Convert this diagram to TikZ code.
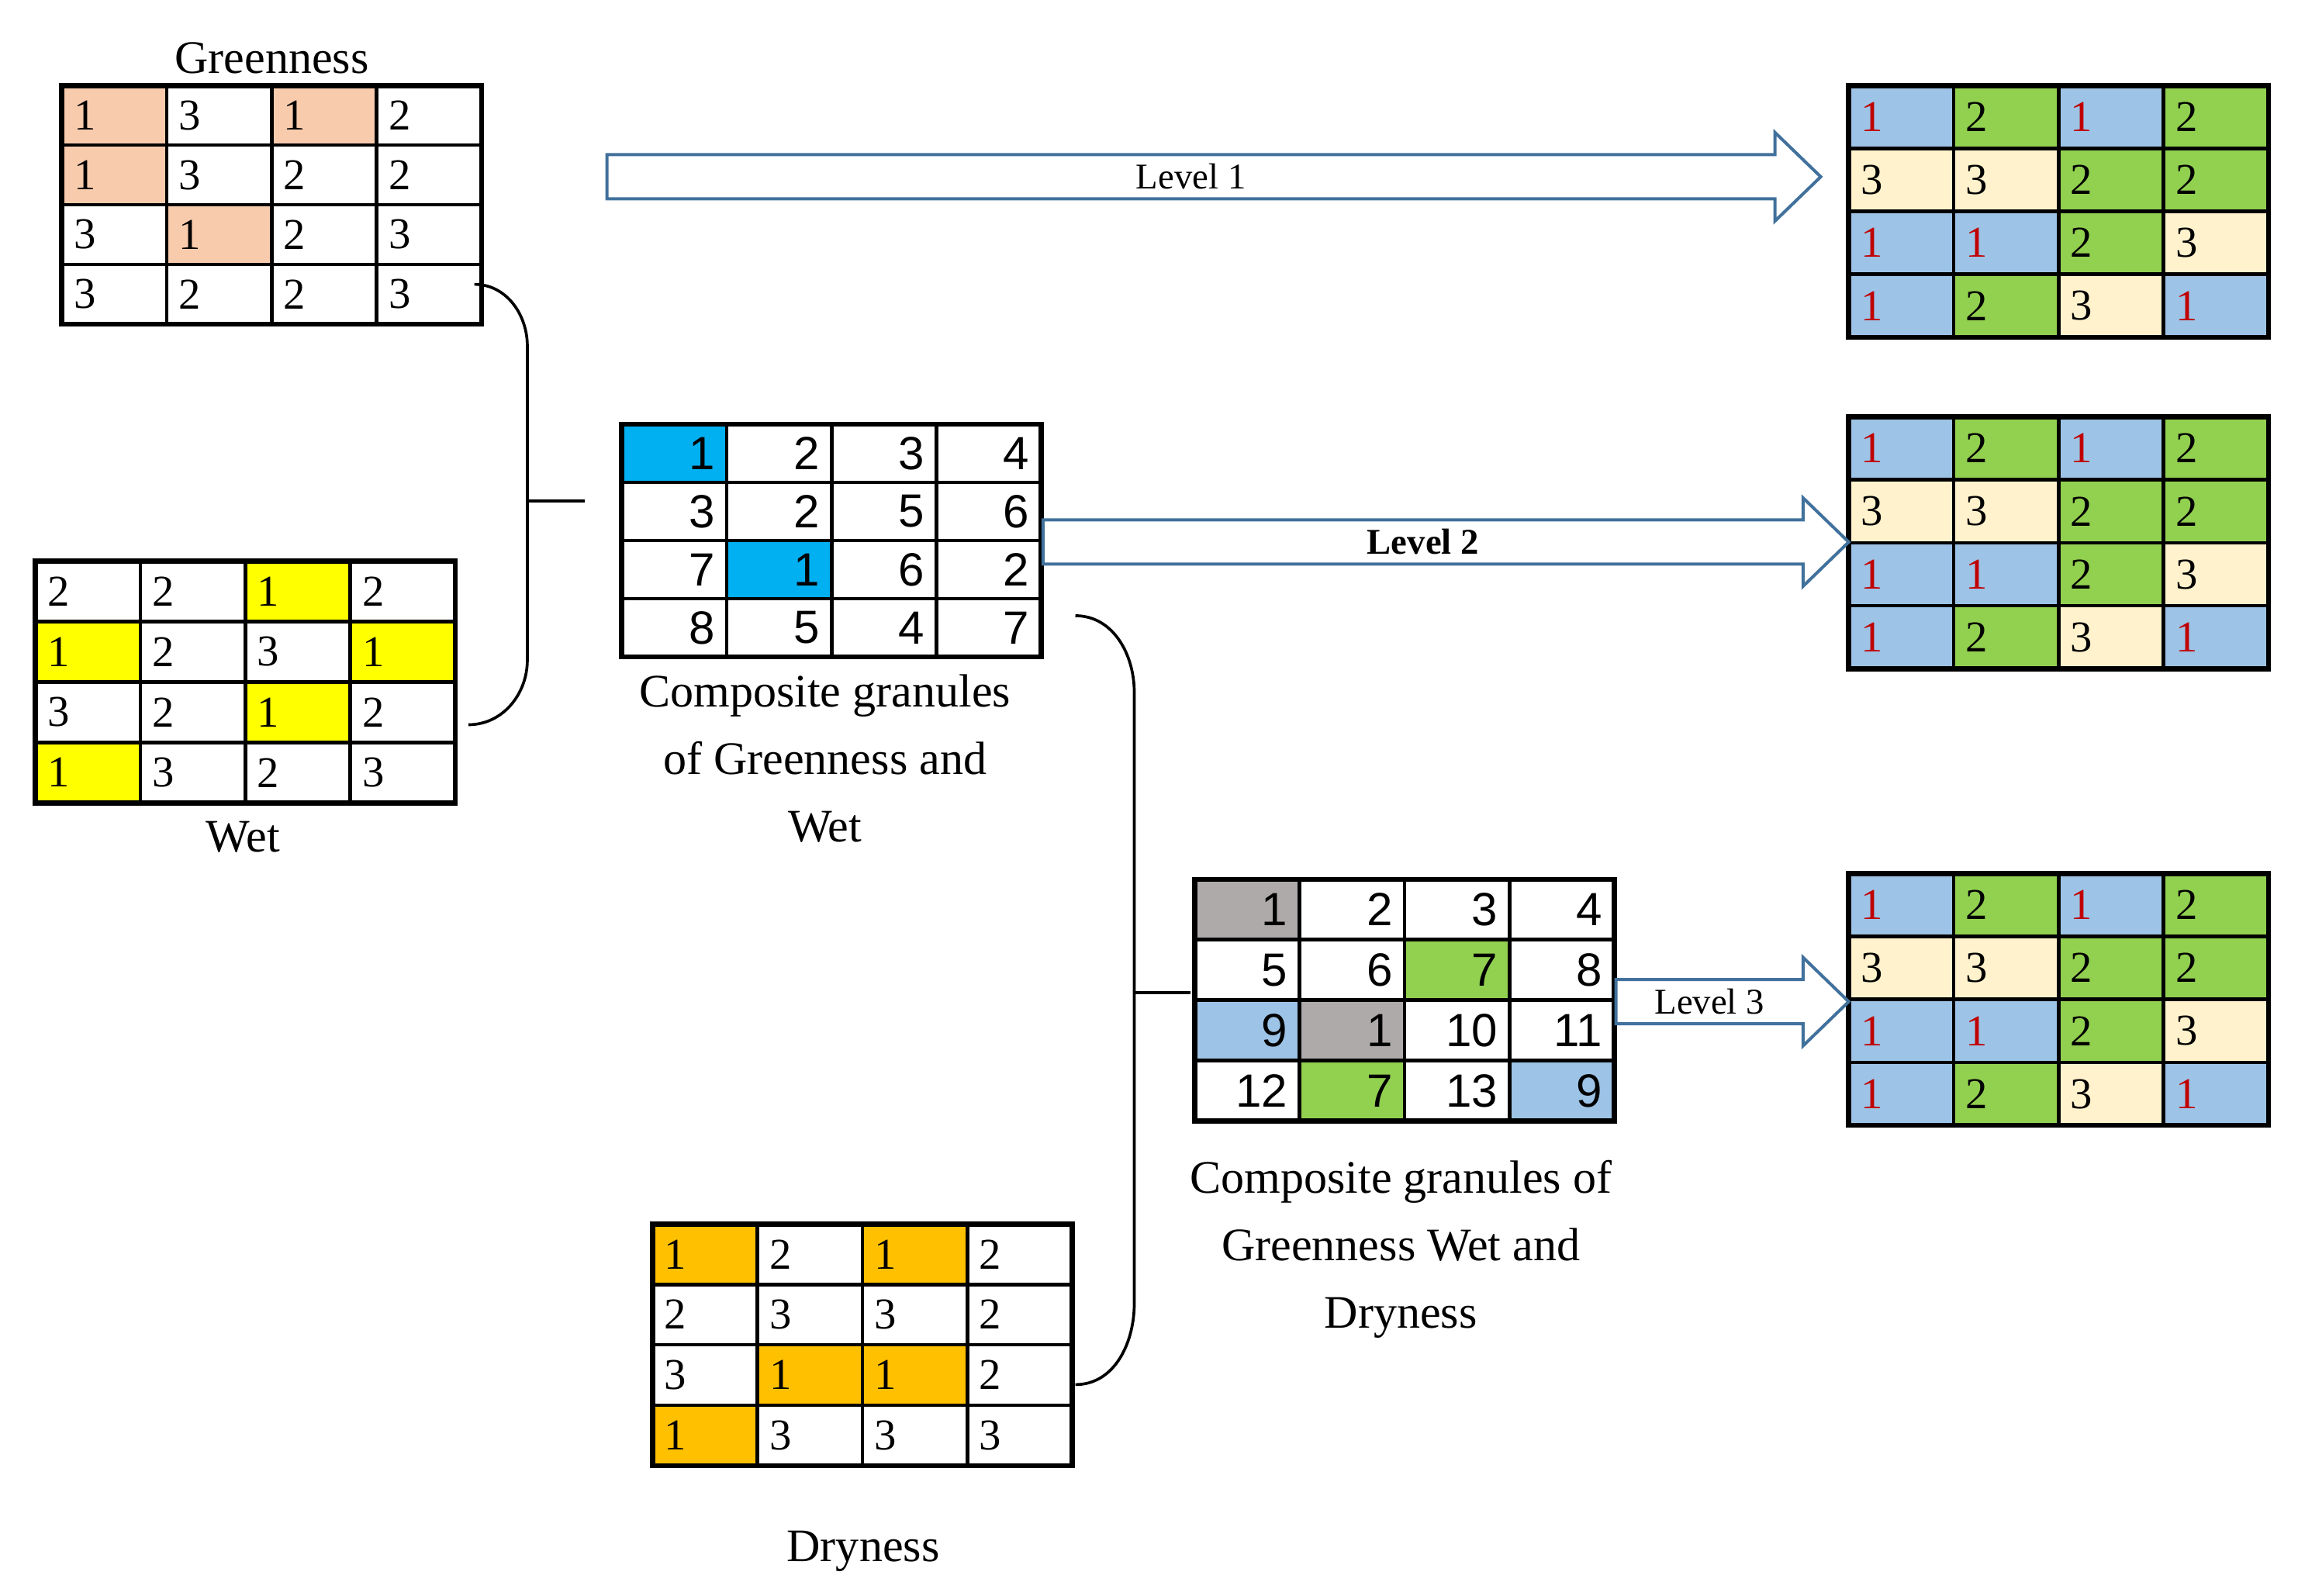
\documentclass[tikz,border=0pt]{standalone}
\usepackage{fontspec}
\setmainfont{Liberation Serif}
\newfontfamily\numfont{Liberation Sans}
\usetikzlibrary{positioning}

\definecolor{gs}{HTML}{F8CBAD}
\definecolor{wy}{HTML}{FFFF00}
\definecolor{dy}{HTML}{FFC000}
\definecolor{cb}{HTML}{00B0F0}
\definecolor{gy}{HTML}{AEAAAA}
\definecolor{gn}{HTML}{92D050}
\definecolor{lb}{HTML}{9DC3E6}
\definecolor{cr}{HTML}{FFF2CC}
\definecolor{ab}{HTML}{41719C}
\definecolor{rd}{HTML}{C00000}
\newcommand\rd{\color{rd}}

\tikzset{
  cell/.style={rectangle, draw, line width=1.4pt, anchor=north west, inner xsep=3pt,
    outer sep=0pt, text width=1.1cm, font=\fontsize{17}{20}\selectfont},
  lnum/.style={align=left},
  rnum/.style={align=right, font=\numfont\fontsize{18}{21}\selectfont},
  title/.style={font=\fontsize{18}{26}\selectfont, align=center},
  barrow/.style={draw=ab, line width=1.2pt, fill=white},
  bracket/.style={draw, line width=1.1pt}
}

% #1 name, #2 x, #3 y, #4 cell height, #5 style, #6 cells
\newcommand\granule[6]{
  \foreach \v/\c [count=\i from 0] in {#6}{
    \pgfmathtruncatemacro\col{mod(\i,4)}
    \pgfmathtruncatemacro\row{\i/4}
    \node[cell, #5, fill=\c, minimum width=1.425cm, minimum height={#4*0.02cm}]
      (#1-\i) at ({#2+\col*71.25},{#3+\row*#4}) {\v};
  }
  \draw[line width=2pt] (#1-0.north west) rectangle (#1-15.south east);
}

% #1 name, #2 start x, #3 tip x, #4 centre y, #5 label
\newcommand\blockarrow[5]{
  \draw[barrow] (#2,#4-15) -- (#3-31,#4-15) -- (#3-31,#4-30) -- (#3,#4)
    -- (#3-31,#4+30) -- (#3-31,#4+15) -- (#2,#4+15) -- cycle;
  \node[font=\fontsize{14}{16}\selectfont] (#1) at ({(#2+#3-31)/2},#4) {#5};
}

\begin{document}
\begin{tikzpicture}[x=0.02cm, y=-0.02cm]
    \useasboundingbox (0,0) rectangle (1560,1083);

    % Input granules
    \granule{green}{42}{58}{40.5}{lnum}{1/gs,3/white,1/gs,2/white,1/gs,3/white,2/white,2/white,
      3/white,1/gs,2/white,3/white,3/white,2/white,2/white,3/white}
    \granule{wet}{24}{381}{41}{lnum}{2/white,2/white,1/wy,2/white,1/wy,2/white,3/white,1/wy,
      3/white,2/white,1/wy,2/white,1/wy,3/white,2/white,3/white}
    \granule{dry}{443}{831}{41}{lnum}{1/dy,2/white,1/dy,2/white,2/white,3/white,3/white,2/white,
      3/white,1/dy,1/dy,2/white,1/dy,3/white,3/white,3/white}

    % Composite granules
    \granule{compA}{422}{288}{39.5}{rnum}{1/cb,2/white,3/white,4/white,3/white,2/white,5/white,6/white,
      7/white,1/cb,6/white,2/white,8/white,5/white,4/white,7/white}
    \granule{compB}{811}{597}{41}{rnum}{1/gy,2/white,3/white,4/white,5/white,6/white,7/gn,8/white,
      9/lb,1/gy,10/white,11/white,12/white,7/gn,13/white,9/lb}

    % Result levels
    \foreach \n/\y in {resA/58,resB/283,resC/593}{
      \granule{\n}{1255}{\y}{42.75}{lnum}{{\rd 1}/lb,2/gn,{\rd 1}/lb,2/gn,3/cr,3/cr,2/gn,2/gn,
        {\rd 1}/lb,{\rd 1}/lb,2/gn,3/cr,{\rd 1}/lb,2/gn,3/cr,{\rd 1}/lb}
    }

    % Titles
    \node[title, above=1pt of green-1.north east] (greenT) {Greenness};
    \node[title] (wetT) at (165,568) {Wet};
    \node[title] (dryT) at (586,1053) {Dryness};
    \node[title] (compAT) at (560,515) {Composite granules\\of Greenness and\\Wet};
    \node[title] (compBT) at (951,848) {Composite granules of\\Greenness Wet and\\Dryness};

    % Brackets
    \coordinate (jA) at (358,340);
    \coordinate (jB) at (770,674);
    \draw[bracket] (322,193) to[out=0,in=90] (358,235) -- (358,448) to[out=-90,in=0] (318,492);
    \draw[bracket] (jA) -- (397,340);
    \draw[bracket] (730,418) to[out=0,in=90] (770,470) -- (770,885) to[out=-90,in=0] (730,940);
    \draw[bracket] (jB) -- (808,674);

    % Arrows
    \blockarrow{lvA}{412}{1236}{120}{Level 1}
    \blockarrow{lvB}{708}{1255}{368}{\textbf{Level 2}}
    \blockarrow{lvC}{1097}{1255}{680}{Level 3}
\end{tikzpicture}
\end{document}
